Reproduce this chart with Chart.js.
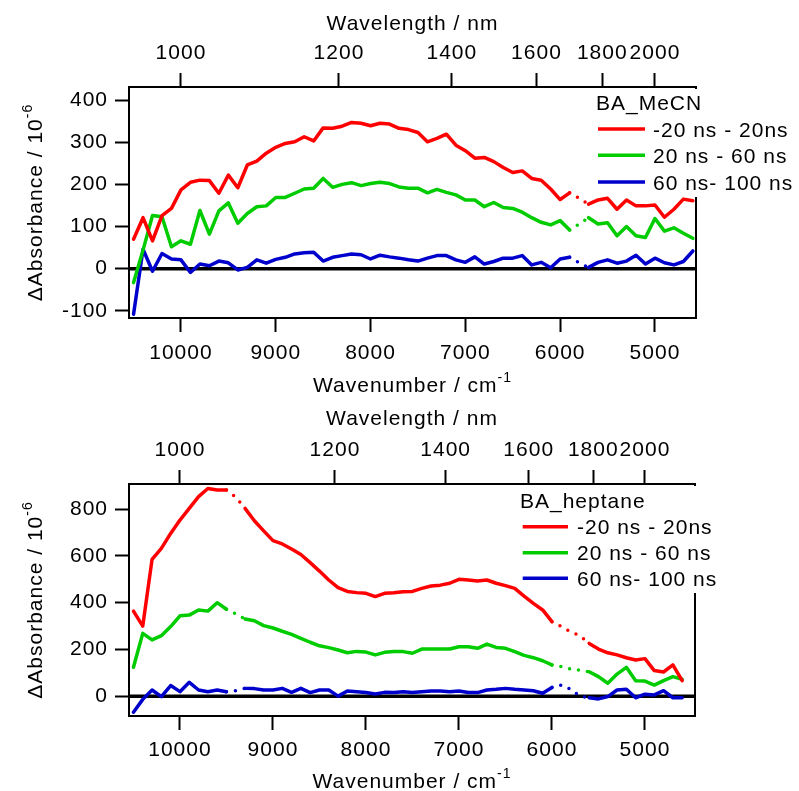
<!DOCTYPE html>
<html>
<head>
<meta charset="utf-8">
<script src="https://cdn.jsdelivr.net/npm/chart.js@4.4.1/dist/chart.umd.min.js"></script>
<style>
  html, body { margin: 0; padding: 0; background: #fff; }
  #wrap { position: relative; width: 799px; height: 791px; }
  canvas { position: absolute; left: 0; }
  #mecn { top: 0; }
  #heptane { top: 395px; }
</style>
</head>
<body>
<div id="wrap">
  <canvas id="mecn" width="799" height="395"></canvas>
  <canvas id="heptane" width="799" height="396"></canvas>
</div>
<script>
// wavenumber of every point (cm-1)
const wavenumber = [10500, 10400, 10300, 10200, 10100, 10000, 9900, 9800, 9700, 9600,
  9500, 9400, 9300, 9200, 9100, 9000, 8900, 8800, 8700, 8600,
  8500, 8400, 8300, 8200, 8100, 8000, 7900, 7800, 7700, 7600,
  7500, 7400, 7300, 7200, 7100, 7000, 6900, 6800, 6700, 6600,
  6500, 6400, 6300, 6200, 6100, 6000, 5900, 5800, 5700, 5600,
  5500, 5400, 5300, 5200, 5100, 5000, 4900, 4800, 4700, 4600];

const seriesLabels = ['-20 ns - 20ns', '20 ns - 60 ns', '60 ns- 100 ns'];
const seriesColors = ['#ff0000', '#00cc00', '#0000cc'];

// BA_MeCN
const mecnEarly = [70, 121, 66, 126, 143, 187, 205, 210, 209, 179,
  222, 192, 246, 255, 274, 288, 297, 301, 313, 303,
  334, 333, 338, 347, 345, 339, 345, 343, 333, 330,
  323, 301, 309, 319, 293, 280, 262, 264, 254, 240,
  228, 232, 214, 210, 189, 164, 180, 167, 153, 163,
  167, 141, 163, 149, 149, 151, 122, 141, 165, 161];
const mecnMid = [-33, 44, 126, 123, 52, 66, 58, 138, 82, 137,
  156, 108, 131, 147, 149, 169, 169, 179, 189, 191,
  214, 193, 200, 204, 197, 202, 205, 202, 194, 191,
  191, 180, 188, 181, 175, 163, 163, 147, 157, 145,
  143, 134, 121, 110, 104, 114, 92, 106, 121, 106,
  109, 78, 100, 78, 74, 119, 89, 97, 84, 72];
const mecnLate = [-108, 46, -6, 36, 23, 21, -9, 11, 7, 18,
  14, -3, 3, 21, 13, 22, 27, 35, 38, 39,
  18, 27, 31, 35, 33, 23, 32, 28, 25, 21,
  18, 25, 31, 31, 21, 15, 28, 11, 17, 25,
  25, 31, 9, 15, 2, 23, 27, 14, 3, 15,
  21, 13, 18, 32, 11, 25, 14, 9, 17, 42];

// BA_heptane
const heptEarly = [364, 300, 585, 632, 696, 753, 803, 853, 888, 881,
  881, 850, 803, 750, 707, 665, 651, 629, 606, 571,
  535, 497, 464, 448, 443, 440, 426, 440, 442, 447,
  448, 461, 471, 475, 483, 500, 497, 493, 497, 483,
  473, 461, 428, 397, 369, 319, 298, 276, 259, 226,
  202, 186, 177, 165, 155, 161, 110, 104, 134, 67];
const heptMid = [124, 269, 241, 259, 298, 344, 347, 369, 364, 400,
  372, 352, 330, 323, 302, 292, 278, 265, 248, 231,
  216, 208, 198, 186, 192, 189, 177, 188, 192, 191,
  184, 202, 202, 202, 202, 212, 212, 205, 223, 209,
  205, 191, 175, 165, 152, 134, 127, 117, 112, 105,
  84, 56, 95, 124, 67, 65, 48, 67, 84, 73];
const heptLate = [-68, -13, 27, -1, 46, 20, 60, 27, 20, 27,
  20, 24, 34, 33, 27, 27, 34, 17, 34, 16,
  27, 27, 1, 23, 20, 16, 10, 17, 16, 20,
  16, 20, 23, 23, 20, 23, 16, 16, 27, 30,
  34, 30, 27, 24, 13, 38, 48, 30, 1, -6,
  -11, -1, 27, 30, -6, 9, 6, 24, -6, -6];

// stretches drawn dotted (wavenumber from, to)
const mecnDotted = [[5900, 5700]];
const heptDotted = [[9500, 9300], [6000, 5600]];

const wavenumberTicks = [10000, 9000, 8000, 7000, 6000, 5000];
const wavelengthTicks = [1000, 1200, 1400, 1600, 1800, 2000];
const mecnYTicks = [-100, 0, 100, 200, 300, 400];
const heptYTicks = [0, 200, 400, 600, 800];

const FAMILY = '"Liberation Sans", Arial, sans-serif';
const FONT = { family: FAMILY, size: 21 };
const SPACING = '1px';

function dashFor(ranges) {
  return ctx => {
    const a = ctx.p0.parsed.x, b = ctx.p1.parsed.x;
    return ranges.some(r => a <= r[0] && b >= r[1]) ? [0, 9] : undefined;
  };
}

function drawText(ctx, text, sup, cx, base) {
  ctx.font = '21px ' + FAMILY;
  const w1 = ctx.measureText(text).width;
  ctx.font = '14px ' + FAMILY;
  const w2 = sup ? ctx.measureText(sup).width : 0;
  const x0 = cx - (w1 + w2) / 2;
  ctx.font = '21px ' + FAMILY;
  ctx.fillText(text, x0, base);
  if (sup) {
    ctx.font = '14px ' + FAMILY;
    ctx.fillText(sup, x0 + w1, base - 10);
  }
}

const decor = {
  id: 'decor',
  beforeDraw(chart) {
    chart.ctx.letterSpacing = SPACING;
  },
  beforeDatasetsDraw(chart) {
    // zero line
    const { ctx, chartArea: a, scales: { y } } = chart;
    const y0 = y.getPixelForValue(0);
    ctx.save();
    ctx.strokeStyle = '#000';
    ctx.lineWidth = 3.5;
    ctx.beginPath();
    ctx.moveTo(a.left, y0);
    ctx.lineTo(a.right, y0);
    ctx.stroke();
    ctx.restore();
  },
  afterDraw(chart, args, o) {
    const { ctx, chartArea: a } = chart;
    ctx.save();
    ctx.letterSpacing = SPACING;
    // legend box hides the right frame
    ctx.fillStyle = '#fff';
    ctx.fillRect(a.right - 3, a.top + 2, chart.width - a.right + 3, o.boxBottom - a.top - 2);

    ctx.fillStyle = '#000';
    ctx.textBaseline = 'alphabetic';
    ctx.textAlign = 'left';
    ctx.font = '21px ' + FAMILY;
    ctx.fillText(o.legendTitle, o.titleX, o.titleBase);
    chart.data.datasets.forEach((ds, i) => {
      const ry = o.rows[i];
      ctx.strokeStyle = ds.borderColor;
      ctx.lineWidth = 3.5;
      ctx.beginPath();
      ctx.moveTo(o.lineX0, ry);
      ctx.lineTo(o.lineX1, ry);
      ctx.stroke();
      ctx.fillStyle = '#000';
      ctx.fillText(ds.label, o.textX, ry + 7.5);
    });

    // axis titles
    const cx = (a.left + a.right) / 2;
    drawText(ctx, 'Wavelength / nm', null, cx, o.topTitleBase);
    drawText(ctx, 'Wavenumber / cm', '-1', cx, o.bottomTitleBase);
    ctx.translate(o.yTitleX, (a.top + a.bottom) / 2);
    ctx.rotate(-Math.PI / 2);
    drawText(ctx, '\u0394Absorbance / 10', '-6', 0, 0);
    ctx.restore();
  }
};

function makeChart(id, s) {
  const datasets = s.series.map((vals, i) => ({
    label: seriesLabels[i],
    data: wavenumber.map((x, k) => ({ x: x, y: vals[k] })),
    borderColor: seriesColors[i],
    borderWidth: 3.5,
    borderCapStyle: 'round',
    borderJoinStyle: 'round',
    pointRadius: 0,
    tension: 0,
    segment: { borderDash: dashFor(s.dotted) }
  }));
  const tickGrid = { drawOnChartArea: false, drawTicks: true, tickLength: 14, tickWidth: 2, tickColor: '#000' };
  const border = { display: true, color: '#000', width: 2 };
  return new Chart(document.getElementById(id), {
    type: 'line',
    data: { datasets },
    plugins: [decor],
    options: {
      responsive: false,
      devicePixelRatio: 1,
      animation: false,
      layout: { padding: { left: 0, right: s.padRight, top: 0, bottom: 0 } },
      plugins: {
        legend: { display: false },
        tooltip: { enabled: false },
        decor: s.decor
      },
      scales: {
        x: {
          type: 'linear', position: 'bottom', reverse: true, min: s.xMin, max: s.xMax,
          grid: tickGrid, border,
          ticks: { color: '#000', font: FONT, padding: s.xPad, maxRotation: 0, autoSkip: false, callback: v => String(v) },
          afterBuildTicks: sc => { sc.ticks = wavenumberTicks.map(v => ({ value: v })); },
          afterFit: sc => { sc.height = s.bottomH; }
        },
        x2: {
          type: 'linear', position: 'top', reverse: true, min: s.xMin, max: s.xMax,
          grid: tickGrid, border,
          ticks: { color: '#000', font: FONT, padding: s.x2Pad, maxRotation: 0, autoSkip: false, callback: v => String(Math.round(1e7 / v)) },
          afterBuildTicks: sc => { sc.ticks = wavelengthTicks.map(nm => ({ value: 1e7 / nm })); },
          afterFit: sc => { sc.height = s.topH; }
        },
        y: {
          type: 'linear', position: 'left', min: s.yMin, max: s.yMax,
          grid: tickGrid, border,
          ticks: { color: '#000', font: FONT, padding: 7, callback: v => String(v) },
          afterBuildTicks: sc => { sc.ticks = s.yTicks.map(v => ({ value: v })); },
          afterFit: sc => { sc.width = 129; }
        },
        y2: {
          type: 'linear', position: 'right', min: s.yMin, max: s.yMax,
          grid: { drawOnChartArea: false, drawTicks: false }, border,
          ticks: { display: false },
          afterFit: sc => { sc.width = 0; }
        }
      }
    }
  });
}

makeChart('mecn', {
  series: [mecnEarly, mecnMid, mecnLate],
  dotted: mecnDotted,
  xMin: 4567, xMax: 10548,
  yMin: -117, yMax: 431, yTicks: mecnYTicks,
  padRight: 103, topH: 87, bottomH: 77, xPad: 9, x2Pad: 7,
  decor: {
    legendTitle: 'BA_MeCN', titleX: 596, titleBase: 110,
    lineX0: 598, lineX1: 645, textX: 653, rows: [129, 155.3, 182], boxBottom: 197,
    topTitleBase: 30, bottomTitleBase: 392, yTitleX: 41.5
  }
});

makeChart('heptane', {
  series: [heptEarly, heptMid, heptLate],
  dotted: heptDotted,
  xMin: 4462, xMax: 10548,
  yMin: -84, yMax: 907, yTicks: heptYTicks,
  padRight: 104, topH: 89, bottomH: 75, xPad: 8, x2Pad: 7,
  decor: {
    legendTitle: 'BA_heptane', titleX: 520, titleBase: 113,
    lineX0: 522.7, lineX1: 568, textX: 577, rows: [131.7, 157.7, 183.3], boxBottom: 198,
    topTitleBase: 30, bottomTitleBase: 393, yTitleX: 41.5
  }
});
</script>
</body>
</html>
